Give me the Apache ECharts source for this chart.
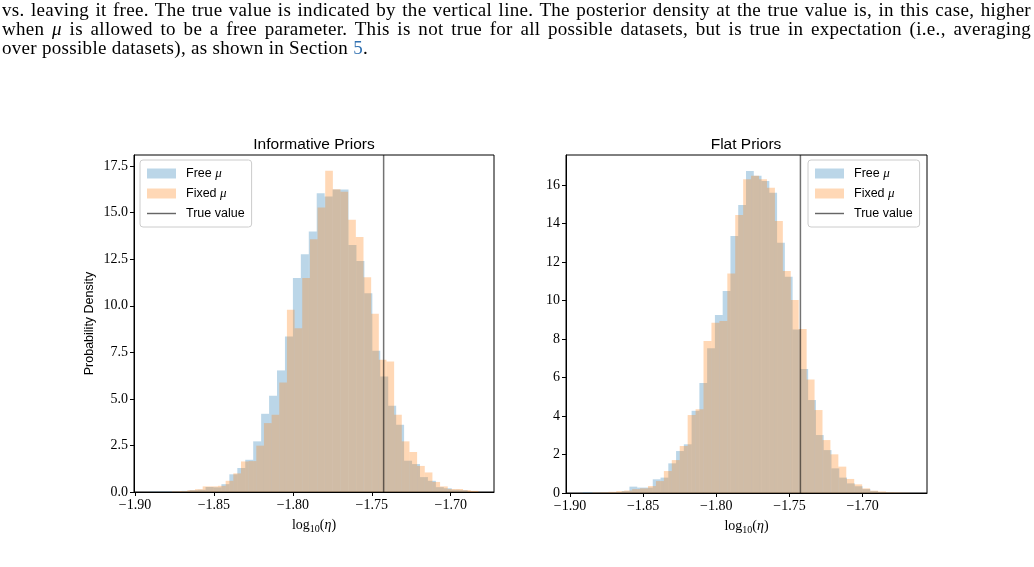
<!DOCTYPE html>
<html>
<head>
<meta charset="utf-8">
<script src="https://cdn.jsdelivr.net/npm/echarts@6/dist/echarts.min.js"></script>
<style>
  html, body { margin: 0; padding: 0; background: #fff; }
  #chart { position: absolute; left: 0; top: 0; width: 1034px; height: 567px; }
  #text { position: absolute; left: 2px; top: 0; width: 1029px; font-family: "Liberation Serif", serif; font-size: 19px; letter-spacing: 0.3px; line-height: 19px; color: #000; }
  #text .j { text-align: justify; text-align-last: justify; }
  #text a { color: #3070b0; text-decoration: none; }
</style>
</head>
<body>
<div id="chart"></div>
<div id="text">
  <div class="j">vs. leaving it free. The true value is indicated by the vertical line. The posterior density at the true value is, in this case, higher</div>
  <div class="j">when <i>μ</i> is allowed to be a free parameter. This is not true for all possible datasets, but is true in expectation (i.e., averaging</div>
  <div>over possible datasets), as shown in Section <a>5</a>.</div>
</div>
<script>
const trueValue = -1.7425
const xTicks = [-1.90, -1.85, -1.80, -1.75, -1.70]

// informative priors panel: histogram bins (first edge, bin width, heights)
const infFreeStart = -1.8905
const infFreeWidth = 0.00503
const infFree = [0.02, 0.02, 0.02, 0.03, 0.06, 0.1, 0.12, 0.27, 0.25, 0.42,
  0.95, 1.29, 1.73, 2.72, 4.2, 5.17, 6.53, 8.35, 11.49, 12.77,
  13.99, 16.05, 15.87, 16.25, 16.25, 13.27, 12.41, 10.68, 7.58, 6.2,
  4.63, 3.61, 1.68, 1.5, 0.8, 0.6, 0.26, 0.2, 0.12, 0.1]
const infFixedStart = -1.8765
const infFixedWidth = 0.00485
const infFixed = [0.03, 0.05, 0.1, 0.15, 0.3, 0.3, 0.33, 0.6, 1.0, 1.64,
  1.66, 2.49, 3.7, 4.15, 5.88, 9.79, 8.8, 11.49, 13.58, 15.28,
  17.25, 16.26, 16.12, 14.62, 13.69, 11.54, 9.57, 7.1, 7.01, 4.15,
  2.72, 2.15, 1.4, 1.05, 0.54, 0.3, 0.16, 0.16, 0.1, 0.06]

// flat priors panel
const flatFreeStart = -1.8912
const flatFreeWidth = 0.00531
const flatFree = [0.03, 0.03, 0.04, 0.04, 0.05, 0.1, 0.33, 0.28, 0.28, 0.71,
  0.8, 1.54, 2.18, 2.53, 4.27, 5.72, 7.52, 9.25, 10.49, 13.35,
  14.96, 16.73, 16.48, 16.21, 15.6, 13.0, 11.24, 8.5, 6.44, 4.83,
  3.01, 2.23, 1.28, 0.8, 0.5, 0.35, 0.2, 0.1, 0.05, 0.03]
const flatFixedStart = -1.8846
const flatFixedWidth = 0.00542
const flatFixed = [0.03, 0.04, 0.06, 0.1, 0.13, 0.2, 0.24, 0.36, 0.62, 1.14,
  1.71, 2.44, 4.05, 4.35, 7.9, 8.85, 8.94, 11.41, 14.44, 16.3,
  16.48, 16.3, 15.86, 14.13, 11.53, 10.03, 8.52, 5.9, 4.31, 2.75,
  2.01, 1.37, 0.73, 0.45, 0.24, 0.12, 0.08, 0.04, 0.02, 0.01]

const blue = 'rgba(31, 119, 180, 0.3)'
const orange = 'rgba(255, 127, 14, 0.3)'
const lineColor = 'rgba(0, 0, 0, 0.55)'
const serif = '"Liberation Serif", serif'
const sans = '"Liberation Sans", sans-serif'

function bins(start, width, heights) {
  return heights.map((h, i) => [start + i * width, start + (i + 1) * width, h])
}

function renderBar(params, api) {
  const a = api.coord([api.value(0), api.value(2)])
  const b = api.coord([api.value(1), 0])
  return {
    type: 'rect',
    shape: { x: a[0], y: a[1], width: b[0] - a[0], height: b[1] - a[1] },
    style: { fill: api.visual('color') },
  }
}

function histSeries(name, color, idx, data) {
  return {
    name, type: 'custom', xAxisIndex: idx, yAxisIndex: idx,
    renderItem: renderBar, data, encode: { x: [0, 1], y: 2 },
    itemStyle: { color }, clip: true, silent: true,
  }
}

function trueSeries(idx, top) {
  return {
    name: 'True value', type: 'line', xAxisIndex: idx, yAxisIndex: idx,
    data: [[trueValue, 0], [trueValue, top]], symbol: 'none', silent: true,
    lineStyle: { color: lineColor, width: 1.5 }, itemStyle: { color: lineColor }, z: 5,
  }
}

const minus = (v, d) => (v < 0 ? '\u2212' : '') + Math.abs(v).toFixed(d)

function xAxis(idx, min, max) {
  return {
    type: 'value', gridIndex: idx, min, max,
    name: '{a|log}{s|10}{a|(}{i|η}{a|)}', nameLocation: 'middle', nameGap: 24,
    nameTextStyle: { rich: {
      a: { fontFamily: serif, fontSize: 14, color: '#000' },
      s: { fontFamily: serif, fontSize: 10, color: '#000', padding: [8, 0, 0, 0] },
      i: { fontFamily: serif, fontSize: 14, fontStyle: 'italic', color: '#000' },
    } },
    axisLine: { show: true, lineStyle: { color: '#000', width: 1 } },
    axisTick: { show: true, length: 4, customValues: xTicks, lineStyle: { color: '#000' } },
    axisLabel: { customValues: xTicks, formatter: v => minus(v, 2), fontFamily: serif, fontSize: 14, color: '#000', margin: 6 },
    splitLine: { show: false },
  }
}

function yAxis(idx, max, interval, digits, name) {
  return {
    type: 'value', gridIndex: idx, min: 0, max, interval,
    name, nameLocation: 'middle', nameGap: 38,
    nameTextStyle: { fontFamily: sans, fontSize: 12.5, color: '#000' },
    axisLine: { show: true, lineStyle: { color: '#000', width: 1 } },
    axisTick: { show: true, length: 4, lineStyle: { color: '#000' } },
    axisLabel: { formatter: v => minus(v, digits), fontFamily: serif, fontSize: 14, color: '#000', margin: 6,
      showMaxLabel: false },
    splitLine: { show: false },
  }
}

function legend(left) {
  return {
    orient: 'vertical', left, top: 160, itemWidth: 29, itemHeight: 10, itemGap: 5,
    padding: [6, 7, 6, 7], borderColor: '#cccccc', borderWidth: 1, borderRadius: 3,
    backgroundColor: 'rgba(255,255,255,0.8)', selectedMode: false,
    data: [
      { name: 'Free μ', icon: 'rect' },
      { name: 'Fixed μ', icon: 'rect' },
      { name: 'True value', icon: 'path://M0,0 L30,0 L30,1.5 L0,1.5 Z', itemStyle: { color: 'rgba(0,0,0,0.6)' } },
    ],
    formatter: n => n === 'True value' ? '{t|True value}' : '{t|' + n.split(' ')[0] + ' }{m|μ}',
    textStyle: { padding: [0, 0, 0, 5], lineHeight: 15, rich: {
      t: { fontFamily: sans, fontSize: 12.5, color: '#000', lineHeight: 15 },
      m: { fontFamily: serif, fontSize: 13, fontStyle: 'italic', color: '#000', lineHeight: 15 },
    } },
  }
}

const chart = echarts.init(document.getElementById('chart'), null, { renderer: 'canvas' })
chart.setOption({
  animation: false,
  backgroundColor: 'transparent',
  title: [
    { text: 'Informative Priors', left: 309, top: 132, textAlign: 'center', textStyle: { fontFamily: sans, fontSize: 15.5, fontWeight: 'normal', color: '#000' } },
    { text: 'Flat Priors', left: 741, top: 132, textAlign: 'center', textStyle: { fontFamily: sans, fontSize: 15.5, fontWeight: 'normal', color: '#000' } },
  ],
  legend: [legend(140), legend(808)],
  grid: [
    { left: 134, top: 155, width: 360, height: 337, show: true, borderColor: '#000', borderWidth: 1, backgroundColor: 'transparent' },
    { left: 566, top: 155, width: 361, height: 338, show: true, borderColor: '#000', borderWidth: 1, backgroundColor: 'transparent' },
  ],
  xAxis: [xAxis(0, -1.9006, -1.6726), xAxis(1, -1.9027, -1.656)],
  yAxis: [yAxis(0, 18.1, 2.5, 1, 'Probability Density'), yAxis(1, 17.56, 2, 0, '')],
  series: [
    histSeries('Free μ', blue, 0, bins(infFreeStart, infFreeWidth, infFree)),
    histSeries('Fixed μ', orange, 0, bins(infFixedStart, infFixedWidth, infFixed)),
    trueSeries(0, 18.1),
    histSeries('Free μ', blue, 1, bins(flatFreeStart, flatFreeWidth, flatFree)),
    histSeries('Fixed μ', orange, 1, bins(flatFixedStart, flatFixedWidth, flatFixed)),
    trueSeries(1, 17.56),
  ],
})
</script>
</body>
</html>
